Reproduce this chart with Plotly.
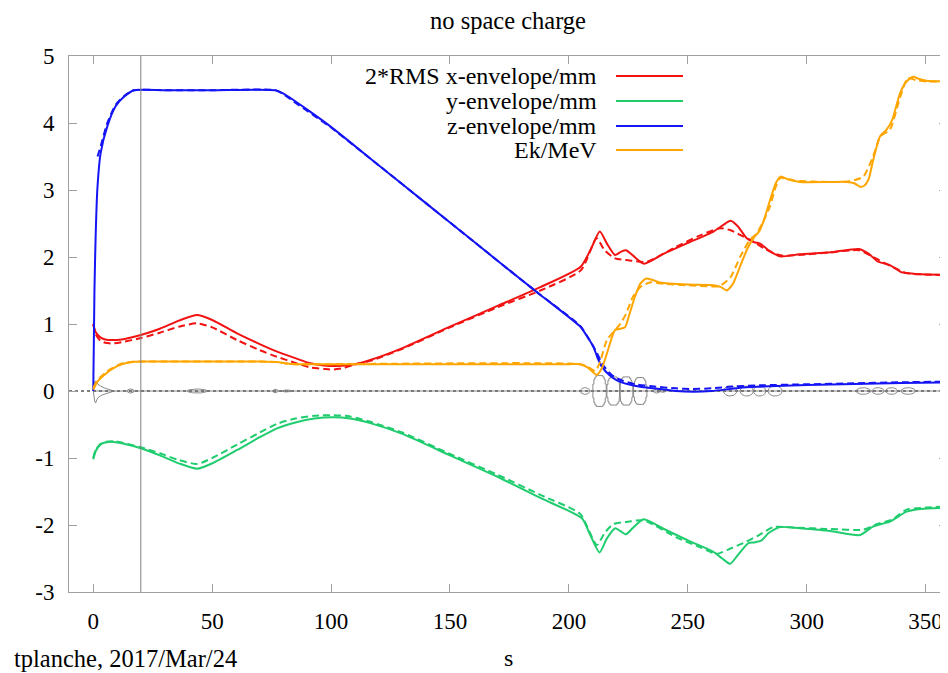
import numpy as np
import plotly.graph_objects as go

# ---------------- data ----------------
S_X = [0, 1, 3, 5, 8, 12, 20, 28, 36, 43.7, 50, 60.5, 70, 77.3, 85, 91.3, 97, 102.5, 110, 116.5,
       130, 150, 170, 188, 205, 209, 213, 216, 219.4, 222, 224, 227, 231.6, 240, 250, 260.8, 265,
       268, 271, 274.8, 278, 280.4, 284, 288.8, 297, 310, 322, 326, 330, 335, 340, 345, 350, 359]
X_SOLID = [1.0, 0.88, 0.8, 0.77, 0.76, 0.77, 0.836, 0.93, 1.05, 1.134, 1.06, 0.86, 0.7, 0.587, 0.49,
           0.413, 0.38, 0.373, 0.4, 0.463, 0.64, 0.96, 1.27, 1.55, 1.855, 2.1, 2.38, 2.2, 2.03, 2.08,
           2.10, 2.02, 1.90, 2.05, 2.21, 2.38, 2.48, 2.54, 2.46, 2.28, 2.22, 2.20, 2.1, 2.01, 2.04,
           2.07, 2.12, 2.05, 1.93, 1.88, 1.77, 1.75, 1.74, 1.73]

S_XD = [0, 1, 3, 5, 8, 12, 20, 28, 36, 43.7, 50, 60.5, 70, 77.3, 85, 91.3, 97, 101, 105, 109.4, 116.5,
        130, 150, 170, 188, 205, 211.7, 215, 219.4, 225, 232.8, 245, 255, 263.6, 268, 272, 277.5, 282,
        285.8, 290, 300, 310, 322, 328, 335, 342, 350, 359]
X_DASH = [1.0, 0.85, 0.75, 0.72, 0.71, 0.73, 0.79, 0.87, 0.96, 1.01, 0.95, 0.76, 0.61, 0.51, 0.42, 0.35,
          0.33, 0.32, 0.34, 0.39, 0.45, 0.63, 0.95, 1.25, 1.50, 1.80, 2.28, 2.1, 1.98, 1.95, 1.93, 2.15,
          2.32, 2.43, 2.40, 2.33, 2.23, 2.13, 2.06, 2.02, 2.04, 2.07, 2.10, 2.00, 1.87, 1.76, 1.74, 1.73]

S_Y = [0, 1, 3, 5, 8.7, 12, 20, 28, 36, 43.7, 50, 60.5, 70, 77.3, 85, 93, 101, 108, 116.5, 130, 150,
       170, 188.2, 205.5, 209, 212.9, 216, 219.5, 222, 224, 227, 231.4, 240, 250, 260.8, 264.5, 267.8,
       271, 275.5, 278, 281, 284, 288.8, 297, 310, 322.4, 328, 335, 342, 348, 359]
Y_SOLID = [-1.02, -0.9, -0.8, -0.77, -0.76, -0.78, -0.855, -0.96, -1.08, -1.16, -1.08, -0.88, -0.69,
           -0.557, -0.47, -0.41, -0.39, -0.41, -0.48, -0.64, -0.96, -1.28, -1.60, -1.90, -2.15, -2.41,
           -2.2, -2.05, -2.1, -2.14, -2.04, -1.915, -2.06, -2.23, -2.40, -2.5, -2.58, -2.45, -2.27,
           -2.26, -2.23, -2.12, -2.03, -2.05, -2.09, -2.15, -2.02, -1.95, -1.80, -1.76, -1.745]

S_YD = [0, 1, 3, 5, 8.7, 12, 20, 28, 36, 43.7, 50, 60.5, 70, 77.3, 85, 93, 101, 108, 116.5, 130, 150,
        170, 188, 204.7, 208, 211.8, 215, 218.7, 225, 231.4, 245, 255, 262.2, 268, 273.4, 280, 286,
        295, 310, 323.8, 330, 336, 342, 350, 359]
Y_DASH = [-1.0, -0.88, -0.79, -0.76, -0.75, -0.77, -0.84, -0.93, -1.03, -1.09, -1.0, -0.80, -0.62,
          -0.49, -0.41, -0.37, -0.36, -0.38, -0.46, -0.62, -0.94, -1.25, -1.55, -1.83, -2.05, -2.30,
          -2.12, -1.985, -1.95, -1.93, -2.18, -2.33, -2.43, -2.35, -2.27, -2.15, -2.03, -2.04, -2.06,
          -2.07, -1.98, -1.92, -1.77, -1.74, -1.72]

S_Z = [0, 0.5, 1, 1.7, 3.1, 5.9, 9.4, 12.9, 17.1, 30, 50, 76.6, 80, 84.3, 90, 99.7, 120, 140, 160, 180,
       188.2, 204.8, 207, 210.3, 212, 213.9, 217, 220.2, 225, 230, 235.5, 245, 252.4, 260, 266.4, 272,
       280.4, 300, 320, 340, 359]
Z_SOLID = [0.0, 1.5, 2.3, 3.0, 3.55, 3.95, 4.25, 4.39, 4.49, 4.49, 4.49, 4.49, 4.44, 4.34, 4.2, 3.95,
           3.37, 2.80, 2.23, 1.66, 1.43, 0.96, 0.85, 0.66, 0.5, 0.36, 0.24, 0.16, 0.1, 0.064, 0.04, 0.0,
           -0.01, 0.0, 0.025, 0.05, 0.065, 0.09, 0.105, 0.12, 0.13]

S_ZD = [1.8, 3.1, 5.9, 9.4, 12.9, 17.1, 30, 50, 76.6, 80, 84.3, 90, 99.7, 120, 140, 160, 180, 188.2,
        204.8, 208, 211, 214.5, 218, 222, 228, 235, 245, 252, 260, 270, 280, 300, 320, 340, 359]
Z_DASH = [3.5, 3.65, 4.0, 4.27, 4.4, 4.49, 4.49, 4.49, 4.49, 4.43, 4.32, 4.18, 3.94, 3.37, 2.80, 2.23,
          1.66, 1.43, 0.97, 0.8, 0.62, 0.38, 0.24, 0.16, 0.1, 0.07, 0.04, 0.03, 0.04, 0.07, 0.085, 0.1,
          0.115, 0.13, 0.14]

S_E = [0, 2, 5, 8, 12, 17, 30, 50, 70, 78, 81.5, 85, 100, 150, 200, 204.8, 208, 211.8, 214, 216,
       219.4, 221.5, 223.6, 225.5, 227.8, 230, 232.5, 235, 238.4, 250, 260.8, 264, 266.4, 269, 272,
       275, 278, 280, 282, 284.6, 287, 289, 292, 297.2, 310, 316.8, 320, 322.4, 324, 325.9, 328,
       330.8, 333.6, 336, 339.2, 342, 344.8, 347, 350.4, 359]
E_SOLID = [0.02, 0.15, 0.25, 0.33, 0.4, 0.437, 0.44, 0.44, 0.44, 0.43, 0.41, 0.40, 0.40, 0.40, 0.40,
           0.40, 0.35, 0.24, 0.35, 0.56, 0.91, 0.93, 0.95, 1.15, 1.41, 1.6, 1.68, 1.66, 1.62, 1.59,
           1.58, 1.55, 1.50, 1.6, 1.86, 2.12, 2.3, 2.38, 2.55, 2.85, 3.1, 3.20, 3.16, 3.12, 3.12, 3.12,
           3.1, 3.05, 3.06, 3.15, 3.45, 3.80, 3.90, 4.05, 4.44, 4.62, 4.69, 4.66, 4.63, 4.62]

S_ED = [0, 2, 5, 8, 12, 17, 30, 70, 78, 81.5, 85, 204.8, 208, 211, 213, 216, 221.8, 224, 227, 230,
        234, 240, 260.8, 263.6, 268, 272, 276, 279, 282, 284.6, 287, 289, 295, 310, 318, 323.8, 327.9,
        331, 335, 339, 342.5, 346, 350, 359]
E_DASH = [0.05, 0.17, 0.27, 0.34, 0.41, 0.437, 0.44, 0.44, 0.43, 0.41, 0.40, 0.40, 0.36, 0.30, 0.42,
          0.76, 1.01, 1.15, 1.41, 1.55, 1.62, 1.6, 1.56, 1.57, 1.7, 2.0, 2.25, 2.35, 2.55, 2.76, 3.05,
          3.18, 3.14, 3.12, 3.13, 3.20, 3.50, 3.8, 3.90, 4.35, 4.67, 4.64, 4.62, 4.62]

# lattice elements drawn around zero: (centre, half length, half height)
LENS_C = [15.7, 43.7, 76.6, 81.5, 206.8, 237, 239.5, 267.8, 274.8, 280.2, 286.7, 323.8, 330, 335.7, 342.7]
LENS_L = [1.5, 4.2, 1.2, 2.0, 2.0, 1.5, 1.2, 2.8, 2.8, 2.6, 3.0, 3.0, 2.5, 2.5, 3.0]
LENS_H = [0.03, 0.03, 0.025, 0.015, 0.05, 0.03, 0.02, 0.075, 0.075, 0.075, 0.075, 0.05, 0.05, 0.05, 0.05]
CAV_C = [212.9, 218.8, 224.1, 230.0]
CAV_L = [2.8, 2.8, 2.8, 2.8]
CAV_H = [0.23, 0.21, 0.21, 0.2]
CAV_U = [-1, -1, -0.85, -0.85, -0.7, -0.7, -0.5, -0.5, 0.5, 0.5, 0.7, 0.7, 0.85, 0.85, 1, 1]
CAV_P = [0, 0.45, 0.45, 0.75, 0.75, 0.9, 0.9, 1, 1, 0.9, 0.9, 0.75, 0.75, 0.45, 0.45, 0]
HORN_S = [0, 0.6, 1, 1.5, 2, 3, 4, 5, 6, 7, 8, 9]
HORN_TOP = [0.0, 0.14, 0.15, 0.12, 0.1, 0.075, 0.055, 0.04, 0.03, 0.02, 0.01, 0.004]
HORN_BOT = [0.0, -0.15, -0.18, -0.13, -0.1, -0.075, -0.055, -0.04, -0.03, -0.02, -0.01, -0.004]

MARKER_S = 20
X_RANGE = [-10.2, 359]
Y_RANGE = [-3, 5]
X_TICKS = [0, 50, 100, 150, 200, 250, 300, 350]
Y_TICKS = [-3, -2, -1, 0, 1, 2, 3, 4, 5]

LEGEND = ["2*RMS x-envelope/mm", "y-envelope/mm", "z-envelope/mm", "Ek/MeV"]
RED, GREEN, BLUE, ORANGE = "#f21212", "#1fcc6e", "#1414f5", "#ffa500"
COLORS = [RED, GREEN, BLUE, ORANGE]

FONT = "Liberation Serif"

# page offset (browser body margin) and screen-space layout
OFF = 8
W, H = 948 - OFF, 673 - OFF
L, R, T, B = 69 - OFF, 1, 56 - OFF, H - (592 - OFF)
pw, ph = W - L - R, H - T - B


def px_x(sx):
    return (sx - OFF - L) / pw


def px_y(sy):
    return (H - B - (sy - OFF)) / ph


fig = go.Figure()

# --- lattice outlines ---
ex, ey = [], []
t = np.linspace(0, 2 * np.pi, 41)
for c, l, h in zip(LENS_C, LENS_L, LENS_H):
    ex += list(c + l * np.cos(t)) + [None]
    ey += list(h * np.sin(t)) + [None]
u = np.array(CAV_U)
p = np.array(CAV_P)
for c, l, h in zip(CAV_C, CAV_L, CAV_H):
    ex += list(c + l * u) + list(c + l * u[::-1]) + [None]
    ey += list(h * p) + list(-h * p[::-1]) + [None]
ex += list(HORN_S) + list(HORN_S[::-1]) + [None]
ey += list(HORN_TOP) + list(HORN_BOT[::-1]) + [None]
fig.add_trace(go.Scatter(x=ex, y=ey, mode="lines", line=dict(color="#8a8a8a", width=1),
                         showlegend=False, hoverinfo="skip"))
fig.add_trace(go.Scatter(x=[HORN_S[0], S_X[-1]], y=[0, 0], mode="lines",
                         line=dict(color="#707070", width=0.8), showlegend=False, hoverinfo="skip"))

# --- curves ---
series = [(S_X, X_SOLID, S_XD, X_DASH), (S_Y, Y_SOLID, S_YD, Y_DASH),
          (S_Z, Z_SOLID, S_ZD, Z_DASH), (S_E, E_SOLID, S_ED, E_DASH)]
for (xs, ys, xd, yd), col, name in zip(series, COLORS, LEGEND):
    fig.add_trace(go.Scatter(x=xd, y=yd, mode="lines", name=name + " (dashed)",
                             line=dict(color=col, width=2, dash="7px,4px", shape="spline", smoothing=0.6),
                             showlegend=False))
    fig.add_trace(go.Scatter(x=xs, y=ys, mode="lines", name=name,
                             line=dict(color=col, width=2, shape="spline", smoothing=0.6),
                             showlegend=False))

# --- manual legend (right-aligned text, sample on the right) ---
leg_rows_px = [76, 101, 126, 150]
annotations = []
shapes = []
for name, col, py in zip(LEGEND, COLORS, leg_rows_px):
    yy = px_y(py)
    annotations.append(dict(xref="paper", yref="paper", x=px_x(599), y=yy, xanchor="right",
                            yanchor="middle", text=name, showarrow=False,
                            font=dict(family=FONT, size=24, color="black")))
    shapes.append(dict(type="line", xref="paper", yref="paper", x0=px_x(616), x1=px_x(683),
                       y0=yy, y1=yy, line=dict(color=col, width=2)))

# zero axis (dotted) and marker line
shapes.append(dict(type="line", xref="paper", yref="y", x0=0, x1=1, y0=0, y1=0,
                   line=dict(color="black", width=1, dash="dot"), layer="below"))
shapes.append(dict(type="line", xref="x", yref="paper", x0=MARKER_S, x1=MARKER_S, y0=0, y1=1,
                   line=dict(color="#808080", width=1)))

annotations.append(dict(xref="paper", yref="paper", x=px_x(508), y=px_y(658), xanchor="center",
                        yanchor="middle", text="s", showarrow=False,
                        font=dict(family=FONT, size=24, color="black")))
annotations.append(dict(xref="paper", yref="paper", x=px_x(12), y=px_y(658),
                        xanchor="left", yanchor="middle", text="tplanche, 2017/Mar/24",
                        showarrow=False, font=dict(family=FONT, size=24.5, color="black")))

axis_common = dict(showgrid=False, zeroline=False, showline=True, linecolor="#a0a0a0", linewidth=1,
                   mirror="ticks", ticks="inside", ticklen=8, tickcolor="#a0a0a0", tickwidth=1,
                   tickfont=dict(family=FONT, size=23, color="black"))
fig.update_layout(
    width=W, height=H, margin=dict(l=L, r=R, t=T, b=B),
    plot_bgcolor="white", paper_bgcolor="white",
    title=dict(text="no space charge", x=0.5, xref="paper", y=1 - (20 - OFF) / H, yref="container",
               xanchor="center", yanchor="middle", font=dict(family=FONT, size=24.5, color="black")),
    xaxis=dict(range=X_RANGE, tickvals=X_TICKS, ticktext=[str(v) for v in X_TICKS],
               ticklabelstandoff=8, **axis_common),
    yaxis=dict(range=Y_RANGE, tickvals=Y_TICKS, ticktext=[str(v) for v in Y_TICKS],
               ticklabelstandoff=9, **axis_common),
    annotations=annotations, shapes=shapes, showlegend=False,
)
fig.write_html("out.html")
